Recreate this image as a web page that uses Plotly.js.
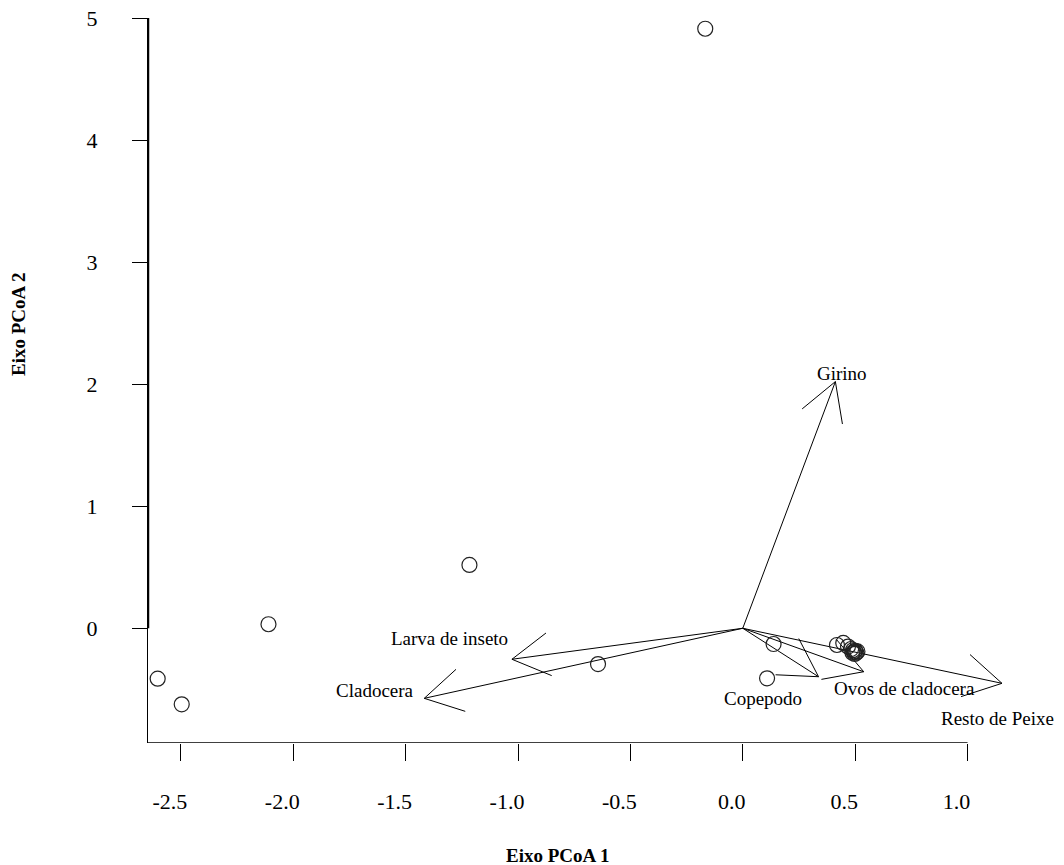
<!DOCTYPE html>
<html>
<head>
<meta charset="utf-8">
<script src="https://cdn.plot.ly/plotly-3.0.1.min.js"></script>
<style>
  html, body { margin: 0; padding: 0; background: #fff; }
  #chart { width: 1064px; height: 865px; }
</style>
</head>
<body>
<div id="chart"></div>
<script>
// Site scores (PCoA axis 1 and 2)
const siteX = [-0.167, -1.216, -2.110, -2.603, -2.496, -0.644, 0.108, 0.137,
               0.419, 0.447, 0.468, 0.482, 0.490, 0.495, 0.500, 0.505, 0.510, 0.498, 0.488];
const siteY = [4.912, 0.519, 0.033, -0.413, -0.623, -0.293, -0.410, -0.129,
               -0.137, -0.120, -0.150, -0.170, -0.180, -0.195, -0.185, -0.200, -0.190, -0.210, -0.200];

// Prey vectors (arrow tips)
const preyNames = ["Girino", "Larva de inseto", "Cladocera", "Copepodo", "Ovos de cladocera", "Resto de Peixe"];
const preyX = [0.412, -1.027, -1.417, 0.337, 0.538, 1.153];
const preyY = [2.021, -0.254, -0.574, -0.397, -0.356, -0.451];
// Label positions
const labelX = [0.441, -1.305, -1.636, 0.091, 0.719, 1.133];
const labelY = [2.09, -0.082, -0.506, -0.574, -0.492, -0.738];

// Axis ticks
const xTicks = [-2.5, -2.0, -1.5, -1.0, -0.5, 0.0, 0.5, 1.0];
const xTickText = ["-2.5", "-2.0", "-1.5", "-1.0", "-0.5", "0.0", "0.5", "1.0"];
const yTicks = [0, 1, 2, 3, 4, 5];
const yTickText = ["0", "1", "2", "3", "4", "5"];

const xRange = [-2.646, 1.3];
const yRange = [-0.94, 5.0];
const M = {l: 148, r: 29, t: 18, b: 122};
const W = 1064, H = 865;
const kx = (W - M.l - M.r) / (xRange[1] - xRange[0]);
const ky = (H - M.t - M.b) / (yRange[1] - yRange[0]);

// Build arrow segments (shaft + open head) in data space using axis scales
const ax = [], ay = [];
const headLen = 43, headAng = Math.PI / 6;
for (let i = 0; i < preyX.length; i++) {
  const tx = preyX[i], ty = preyY[i];
  ax.push(0, tx, null); ay.push(0, ty, null);
  // pixel-space direction from tip back to origin
  const dx = -tx * kx, dy = -ty * ky;
  const len = Math.hypot(dx, dy);
  const ux = dx / len, uy = dy / len;
  for (const s of [1, -1]) {
    const a = s * headAng;
    const rx = ux * Math.cos(a) - uy * Math.sin(a);
    const ry = ux * Math.sin(a) + uy * Math.cos(a);
    ax.push(tx + rx * headLen / kx, tx, null);
    ay.push(ty + ry * headLen / ky, ty, null);
  }
}

const font = "Liberation Serif, Times New Roman, serif";

const traces = [
  {
    x: ax, y: ay, mode: "lines", type: "scatter",
    line: {color: "#000", width: 1}, hoverinfo: "skip", showlegend: false
  },
  {
    x: siteX, y: siteY, mode: "markers", type: "scatter", cliponaxis: false,
    marker: {symbol: "circle-open", size: 15, color: "#222", line: {width: 1.2, color: "#222"}},
    showlegend: false
  }
];

const annotations = preyNames.map((n, i) => ({
  x: labelX[i], y: labelY[i], xref: "x", yref: "y", text: n, showarrow: false,
  font: {family: font, size: 19, color: "#000"}, xanchor: "center", yanchor: "middle"
}));
annotations.push({
  x: (0 - M.l + 557) / (W - M.l - M.r) , y: 855, xref: "paper", yref: "paper",
  text: "<b>Eixo PCoA 1</b>", showarrow: false,
  font: {family: font, size: 19, color: "#000"}
});
annotations[annotations.length - 1].x = (557 - M.l) / (W - M.l - M.r);
annotations[annotations.length - 1].y = (H - M.b - 855) / (H - M.t - M.b);
annotations[annotations.length - 1].yanchor = "middle";
annotations.push({
  x: (18 - M.l) / (W - M.l - M.r), y: (H - M.b - 325) / (H - M.t - M.b),
  xref: "paper", yref: "paper", text: "<b>Eixo PCoA 2</b>", showarrow: false,
  textangle: -90, xanchor: "center", yanchor: "middle",
  font: {family: font, size: 19, color: "#000"}
});

const layout = {
  width: W, height: H,
  margin: M,
  paper_bgcolor: "#fff", plot_bgcolor: "#fff",
  font: {family: font, color: "#000"},
  xaxis: {
    range: xRange, showgrid: false, zeroline: false, showline: false,
    tickvals: xTicks, ticktext: xTickText, ticks: "outside", ticklen: 17,
    tickwidth: 1, tickcolor: "#000", tickfont: {family: font, size: 22, color: "#000"},
    ticklabelshift: -11, ticklabelstandoff: 22
  },
  yaxis: {
    range: yRange, showgrid: false, zeroline: false, showline: true,
    linecolor: "#000", linewidth: 1,
    tickvals: yTicks, ticktext: yTickText, ticks: "outside", ticklen: 15,
    tickwidth: 1, tickcolor: "#000", tickfont: {family: font, size: 22, color: "#000"},
    ticklabelstandoff: 30
  },
  shapes: [
    {type: "line", xref: "x", yref: "y", x0: xRange[0], x1: 1.0, y0: yRange[0], y1: yRange[0],
     line: {color: "#000", width: 1.5}},
    {type: "line", xref: "x", yref: "y", x0: xRange[0], x1: xRange[0], y0: 0, y1: 5,
     line: {color: "#000", width: 2.5}}
  ],
  annotations: annotations
};

Plotly.newPlot("chart", traces, layout, {displayModeBar: false, staticPlot: true});
</script>
</body>
</html>
